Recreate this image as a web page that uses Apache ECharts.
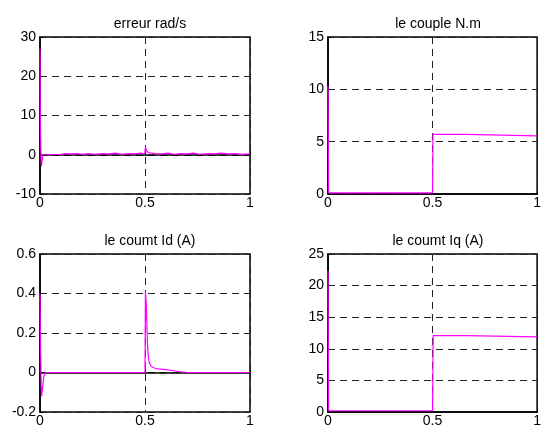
<!DOCTYPE html>
<html>
<head>
<meta charset="utf-8">
<script src="https://cdn.jsdelivr.net/npm/echarts@6/dist/echarts.min.js"></script>
<style>
  html, body { margin: 0; padding: 0; background: #fff; }
  #main { width: 544px; height: 429px; }
</style>
</head>
<body>
<div id="main"></div>
<script>
// titres des quatre sous-graphes
var titles = ["erreur rad/s", "le couple N.m", "le coumt Id (A)", "le coumt Iq (A)"];

// echelles y [min, max, pas]
var yScales = [[-10, 30, 10], [0, 15, 5], [-0.2, 0.6, 0.2], [0, 25, 5]];

// erreur de vitesse (rad/s)
var erreur = [
  [0, 27], [0.002, 8], [0.004, 1], [0.007, -3], [0.01, -1.5], [0.014, 0], [0.02, 0],
  [0.06, 0], [0.1, 0.1], [0.12, 0.3], [0.15, 0.2], [0.18, 0.3], [0.2, 0.1], [0.23, 0.3],
  [0.26, 0.1], [0.3, 0.3], [0.33, 0.2], [0.36, 0.4], [0.39, 0.1], [0.42, 0.3], [0.45, 0.2],
  [0.48, 0.4], [0.499, 0.2], [0.502, 2], [0.51, 0.8], [0.52, 0.5], [0.55, 0.3], [0.58, 0.2],
  [0.61, 0.4], [0.64, 0.1], [0.67, 0.3], [0.7, 0.2], [0.73, 0.4], [0.76, 0.1], [0.8, 0.3],
  [0.83, 0.2], [0.86, 0.4], [0.9, 0.2], [0.93, 0.3], [0.96, 0.1], [1, 0.2]
];

// couple electromagnetique (N.m)
var couple = [
  [0, 10.3], [0.003, 0.1], [0.5, 0.1], [0.502, 5.7], [0.66, 5.7], [0.665, 5.55], [1, 5.55]
];

// courant Id (A)
var courantId = [
  [0, 0.4], [0.003, 0.1], [0.006, -0.08], [0.008, -0.12], [0.012, -0.08], [0.018, -0.02],
  [0.025, 0], [0.5, 0], [0.502, 0.41], [0.506, 0.35], [0.51, 0.2], [0.514, 0.1],
  [0.52, 0.05], [0.53, 0.03], [0.55, 0.02], [0.6, 0.015], [0.63, 0.01], [0.66, 0.005],
  [0.7, 0], [1, 0]
];

// courant Iq (A)
var courantIq = [
  [0, 22.3], [0.003, 0.2], [0.5, 0.2], [0.503, 12.1], [0.66, 12.1], [0.665, 11.9], [1, 11.9]
];

var seriesData = [erreur, couple, courantId, courantIq];

var boxes = [
  { left: 40, top: 37, width: 210, height: 157 },
  { left: 328, top: 37, width: 210, height: 157 },
  { left: 40, top: 254, width: 210, height: 158 },
  { left: 328, top: 254, width: 210, height: 158 }
];

var font = "Liberation Sans, Arial, sans-serif";
var dash = { color: '#222', type: [7, 5], width: 1 };

var option = { animation: false, title: [], grid: [], xAxis: [], yAxis: [], series: [] };

for (var i = 0; i < 4; i++) {
  var b = boxes[i];
  option.grid.push({
    left: b.left, top: b.top, width: b.width, height: b.height,
    show: true, borderColor: '#000', borderWidth: 1.5, backgroundColor: '#fff'
  });
  option.title.push({
    text: titles[i],
    left: b.left + b.width / 2,
    top: b.top - 25,
    textAlign: 'center',
    textStyle: { fontFamily: font, fontSize: 14, fontWeight: 'normal', color: '#000' }
  });
  option.xAxis.push({
    type: 'value', gridIndex: i, min: 0, max: 1, interval: 0.5,
    axisLine: { show: true, lineStyle: { color: '#000', width: 1.5 } },
    axisTick: { show: true, inside: true, length: 3, lineStyle: { color: '#000' } },
    axisLabel: { color: '#000', fontFamily: font, fontSize: 14, margin: 2 },
    splitLine: { show: true, lineStyle: dash }
  });
  option.yAxis.push({
    type: 'value', gridIndex: i, min: yScales[i][0], max: yScales[i][1], interval: yScales[i][2],
    axisLine: { show: true, lineStyle: { color: '#000', width: 1.5 } },
    axisTick: { show: true, inside: true, length: 3, lineStyle: { color: '#000' } },
    axisLabel: { color: '#000', fontFamily: font, fontSize: 14, margin: 4 },
    splitLine: { show: true, lineStyle: dash }
  });
  option.series.push({
    type: 'line', xAxisIndex: i, yAxisIndex: i,
    data: seriesData[i], showSymbol: false, symbol: 'none',
    lineStyle: { color: '#ff00ff', width: 1.2 },
    z: 5
  });
}

var chart = echarts.init(document.getElementById('main'), null, { renderer: 'canvas' });
chart.setOption(option);
</script>
</body>
</html>
